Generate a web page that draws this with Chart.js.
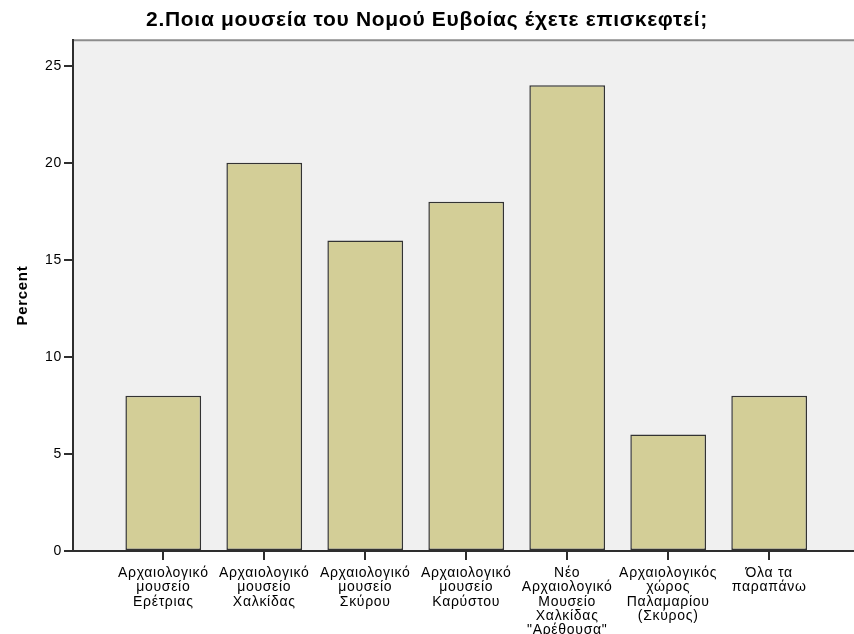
<!DOCTYPE html>
<html>
<head>
<meta charset="utf-8">
<script src="https://cdn.jsdelivr.net/npm/chart.js@4/dist/chart.umd.min.js"></script>
<style>
    html, body { margin: 0; padding: 0; background: #fff; }
    #wrap { width: 854px; height: 634px; }
</style>
</head>
<body>
<div id="wrap"><canvas id="chart"></canvas></div>
<script>
// 数据
var categories = [
    ['Αρχαιολογικό', 'μουσείο', 'Ερέτριας'],
    ['Αρχαιολογικό', 'μουσείο', 'Χαλκίδας'],
    ['Αρχαιολογικό', 'μουσείο', 'Σκύρου'],
    ['Αρχαιολογικό', 'μουσείο', 'Καρύστου'],
    ['Νέο', 'Αρχαιολογικό', 'Μουσείο', 'Χαλκίδας', '"Αρέθουσα"'],
    ['Αρχαιολογικός', 'χώρος', 'Παλαμαρίου', '(Σκύρος)'],
    ['Όλα τα', 'παραπάνω']
];
var percents = [8, 20, 16, 18, 24, 6, 8];
var yTicks = [0, 5, 10, 15, 20, 25];

var points = percents.map(function (v, i) { return { x: i, y: v }; });
var FONT = 'Liberation Sans, Arial, sans-serif';

// 绘图区背景 + 字间距
var plotBg = {
    id: 'plotBg',
    beforeDraw: function (chart) {
        var a = chart.chartArea, c = chart.ctx;
        c.letterSpacing = '0.7px';
        c.save();
        c.fillStyle = '#f0f0f0';
        c.fillRect(a.left, a.top, a.right - a.left, a.bottom - a.top);
        c.strokeStyle = '#8c8c8c';
        c.lineWidth = 2;
        c.beginPath();
        c.moveTo(a.left, a.top);
        c.lineTo(a.right, a.top);
        c.stroke();
        c.restore();
    }
};

var ctx = document.getElementById('chart').getContext('2d');
window.myChart = new Chart(ctx, {
    type: 'bar',
    data: {
        datasets: [{
            data: points,
            backgroundColor: '#d3ce97',
            borderColor: '#333333',
            borderWidth: 1.5,
            borderSkipped: false,
            barPercentage: 0.75,
            categoryPercentage: 1
        }]
    },
    options: {
        responsive: true,
        maintainAspectRatio: false,
        animation: false,
        layout: { padding: 0 },
        plugins: {
            legend: { display: false },
            tooltip: { enabled: false },
            title: {
                display: true,
                text: '2.Ποια μουσεία του Νομού Ευβοίας έχετε επισκεφτεί;',
                color: '#000',
                font: { family: FONT, size: 21, weight: 'bold', lineHeight: 1.2 },
                padding: { top: 8, bottom: 7 }
            }
        },
        scales: {
            x: {
                type: 'linear',
                offset: false,
                min: -0.894,
                max: 6.84,
                afterBuildTicks: function (s) {
                    s.ticks = s.ticks.filter(function (t) { return Number.isInteger(t.value); });
                },
                afterFit: function (s) { s.height = 83; },
                ticks: {
                    stepSize: 1,
                    autoSkip: false,
                    maxRotation: 0,
                    padding: 6,
                    color: '#000',
                    font: { family: FONT, size: 14, lineHeight: 1.02 },
                    callback: function (v) { return categories[v] || ''; }
                },
                grid: { offset: false, drawOnChartArea: false, tickLength: 9, color: '#2e2e2e', tickColor: '#2e2e2e', lineWidth: 2 },
                border: { color: '#2e2e2e', width: 2 }
            },
            y: {
                min: 0,
                max: 26.32,
                afterBuildTicks: function (s) {
                    s.ticks = yTicks.map(function (v) { return { value: v }; });
                },
                afterFit: function (s) { s.width = 73; },
                ticks: {
                    padding: 2,
                    color: '#000',
                    font: { family: FONT, size: 14 }
                },
                grid: { drawOnChartArea: false, tickLength: 9, color: '#2e2e2e', tickColor: '#2e2e2e', lineWidth: 2 },
                border: { color: '#2e2e2e', width: 2 },
                title: {
                    display: true,
                    text: 'Percent',
                    color: '#000',
                    font: { family: FONT, size: 15, weight: 'bold' },
                    padding: { top: 14, bottom: 0 }
                }
            }
        }
    },
    plugins: [plotBg]
});
</script>
</body>
</html>
